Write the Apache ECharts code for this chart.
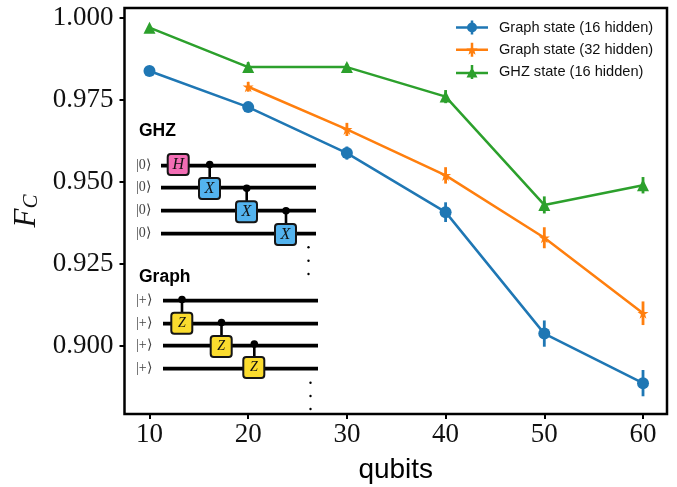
<!DOCTYPE html>
<html>
<head>
<meta charset="utf-8">
<style>html,body{margin:0;padding:0;background:#fff}#c{width:677px;height:487px}</style>
<script src="https://cdn.jsdelivr.net/npm/echarts@6/dist/echarts.min.js"></script>
</head>
<body>
<div id="c"></div>
<script>
const qubits = [10, 20, 30, 40, 50, 60];
const graph16 = [0.9838, 0.9728, 0.9588, 0.9408, 0.9038, 0.8887];
const graph16Err = [0.001, 0.0015, 0.002, 0.003, 0.004, 0.004];
const graph32 = [null, 0.979, 0.966, 0.952, 0.933, 0.910];
const graph32Err = [null, 0.0015, 0.002, 0.0025, 0.0032, 0.0036];
const ghz16 = [0.997, 0.985, 0.985, 0.976, 0.943, 0.949];
const ghz16Err = [0.0005, 0.0015, 0.001, 0.002, 0.0026, 0.0025];
const xTicks = [10, 20, 30, 40, 50, 60];
const yTicks = [0.900, 0.925, 0.950, 0.975, 1.000];
const seriesNames = ['Graph state (16 hidden)', 'Graph state (32 hidden)', 'GHZ state (16 hidden)'];
const colors = ['#1f77b4', '#ff7f0e', '#2ca02c'];

const SERIF = '"Liberation Serif", serif';
const SANS = '"Liberation Sans", sans-serif';
const STAR = 'path://M50 0 L62 36 L100 36 L69 58 L81 95 L50 72 L19 95 L31 58 L0 36 L38 36 Z';
const TRI = 'triangle';

const icons = [
  'path://M0 5.75H32V8.25H0Z M14.75 0H17.25V14H14.75Z M16 2A5 5 0 1 1 16 12A5 5 0 1 1 16 2Z',
  'path://M0 5.75H32V8.25H0Z M14.75 0H17.25V14H14.75Z M16 2L17.5 5.5L21.5 5.5L18.5 8L19.5 12L16 9.5L12.5 12L13.5 8L10.5 5.5L14.5 5.5Z',
  'path://M0 6.75H32V9.25H0Z M14.75 0H17.25V14H14.75Z M16 2L21.5 12.5H10.5Z'
];

function rows(vals, errs) {
  return qubits.map((q, i) => vals[i] == null ? null : [q, vals[i], errs[i]]).filter(Boolean);
}
function errSeries(name, data, color) {
  return {
    type: 'custom', name: name + ' err', data, z: 3, silent: true,
    encode: { x: 0, y: 1 },
    renderItem(params, api) {
      const x = api.value(0), y = api.value(1), e = api.value(2);
      const a = api.coord([x, y - e]), b = api.coord([x, y + e]);
      return { type: 'line', shape: { x1: a[0], y1: a[1], x2: b[0], y2: b[1] },
        style: { stroke: color, lineWidth: 2.8, fill: null } };
    }
  };
}
function lineSeries(name, data, color, symbol, size) {
  return {
    type: 'line', name, data: data.map(d => [d[0], d[1]]), symbol, symbolSize: size,
    showAllSymbol: true, z: 4,
    lineStyle: { color, width: 2.5 }, itemStyle: { color, borderWidth: 0 }, animation: false
  };
}

/* circuit inset */
const g = [];
const INK = '#151515';
function wire(x1, x2, y) {
  g.push({ type: 'line', z: 1, shape: { x1, y1: y, x2, y2: y }, style: { stroke: '#000', lineWidth: 3.8 } });
}
function ket(x, y, s) {
  g.push({ type: 'text', z: 2, x, y, style: { text: s, font: '14px ' + SERIF, fill: '#444', textAlign: 'left', textVerticalAlign: 'middle' } });
}
function gate(x, y, s, fill, cx, cy, fs) {
  g.push({ type: 'line', z: 2, shape: { x1: cx, y1: cy, x2: cx, y2: y }, style: { stroke: '#000', lineWidth: 2.6 } });
  if (cx) g.push({ type: 'circle', z: 2, shape: { cx, cy, r: 3.8 }, style: { fill: '#000' } });
  g.push({ type: 'rect', z: 3, shape: { x, y, width: 21, height: 21, r: 3 }, style: { fill, stroke: INK, lineWidth: 2 } });
  g.push({ type: 'text', z: 4, x: x + 10.5, y: y + 10.5, style: { text: s, font: 'italic ' + (fs || 16) + 'px ' + SERIF, fill: '#111', textAlign: 'center', textVerticalAlign: 'middle' } });
}
function dot(cx, cy) {
  g.push({ type: 'circle', z: 2, shape: { cx, cy, r: 1.2 }, style: { fill: '#000' } });
}
function title(x, y, s) {
  g.push({ type: 'text', z: 2, x, y, style: { text: s, font: 'bold 17.5px ' + SANS, fill: '#000', textAlign: 'left', textVerticalAlign: 'middle' } });
}
title(139, 131.5, 'GHZ');
[165.7, 187.7, 210.7, 233.7].forEach(y => { wire(161, 316, y); ket(136, y - 0.5, '|0⟩'); });
g.push({ type: 'rect', z: 3, shape: { x: 167.7, y: 154, width: 21, height: 21, r: 3 }, style: { fill: '#f26db4', stroke: INK, lineWidth: 2 } });
g.push({ type: 'text', z: 4, x: 178.2, y: 164.5, style: { text: 'H', font: 'italic 16px ' + SERIF, fill: '#111', textAlign: 'center', textVerticalAlign: 'middle' } });
gate(199, 178, 'X', '#53b3ee', 209.7, 164.5);
gate(236, 201.3, 'X', '#53b3ee', 246.7, 188.3);
gate(275, 224, 'X', '#53b3ee', 286, 210.7);
[247.3, 260.7, 274].forEach(y => dot(308.5, y));
title(139, 277, 'Graph');
[300.7, 323.7, 345.7, 368.7].forEach(y => { wire(163, 318, y); ket(136, y - 0.5, '|+⟩'); });
gate(171.3, 312.7, 'Z', '#fbdc2e', 182, 299.5, 14);
gate(210.7, 336, 'Z', '#fbdc2e', 221.5, 322.5, 14);
gate(243.3, 357, 'Z', '#fbdc2e', 254.3, 344, 14);
[382.7, 396, 409].forEach(y => dot(310.5, y));

const chart = echarts.init(document.getElementById('c'), null, { renderer: 'canvas' });
const d16 = rows(graph16, graph16Err), d32 = rows(graph32, graph32Err), dG = rows(ghz16, ghz16Err);
chart.setOption({
  animation: false,
  backgroundColor: '#fff',
  grid: { left: 124.5, top: 8, width: 542.5, height: 406, show: true, borderColor: '#000', borderWidth: 2.5, backgroundColor: 'transparent', z: 5, outerBoundsMode: 'none' },
  legend: {
    left: 456, top: 20, padding: 0, orient: 'vertical', itemWidth: 32, itemHeight: 14, itemGap: 7.3,
    data: seriesNames.map((name, i) => ({ name, icon: icons[i], itemStyle: { color: colors[i] } })),
    textStyle: { fontFamily: SANS, fontSize: 14.6, color: '#111', padding: [0, 0, 0, 6] },
    selectedMode: false
  },
  xAxis: {
    type: 'value', min: 7.47, max: 62.43, splitLine: { show: false },
    name: 'qubits', nameLocation: 'middle', nameGap: 42,
    nameTextStyle: { fontFamily: SANS, fontSize: 28, color: '#000' },
    axisLine: { show: false },
    axisTick: { show: true, customValues: xTicks, length: 5, lineStyle: { color: '#000', width: 2 } },
    axisLabel: { customValues: xTicks, fontFamily: SERIF, fontSize: 27, color: '#111', margin: 7, formatter: v => String(v), showMinLabel: true, showMaxLabel: true }
  },
  yAxis: {
    type: 'value', min: 0.8793, max: 1.003, splitLine: { show: false },
    name: '{f|F}{s|C}', nameLocation: 'middle', nameGap: 81, nameRotate: 90,
    nameTextStyle: { rich: {
      f: { fontFamily: SERIF, fontStyle: 'italic', fontSize: 31, color: '#111' },
      s: { fontFamily: SERIF, fontStyle: 'italic', fontSize: 21, color: '#111', verticalAlign: 'bottom', padding: [10, 0, 0, 0] }
    } },
    axisLine: { show: false },
    axisTick: { show: true, customValues: yTicks, length: 5, lineStyle: { color: '#000', width: 2 } },
    axisLabel: { customValues: yTicks, fontFamily: SERIF, fontSize: 27, color: '#111', margin: 11, formatter: v => v.toFixed(3), showMinLabel: true, showMaxLabel: true }
  },
  graphic: g,
  series: [
    errSeries(seriesNames[0], d16, colors[0]),
    errSeries(seriesNames[1], d32, colors[1]),
    errSeries(seriesNames[2], dG, colors[2]),
    lineSeries(seriesNames[0], d16, colors[0], 'circle', 12),
    lineSeries(seriesNames[1], d32, colors[1], STAR, 11),
    lineSeries(seriesNames[2], dG, colors[2], TRI, 12)
  ]
});
</script>
</body>
</html>
